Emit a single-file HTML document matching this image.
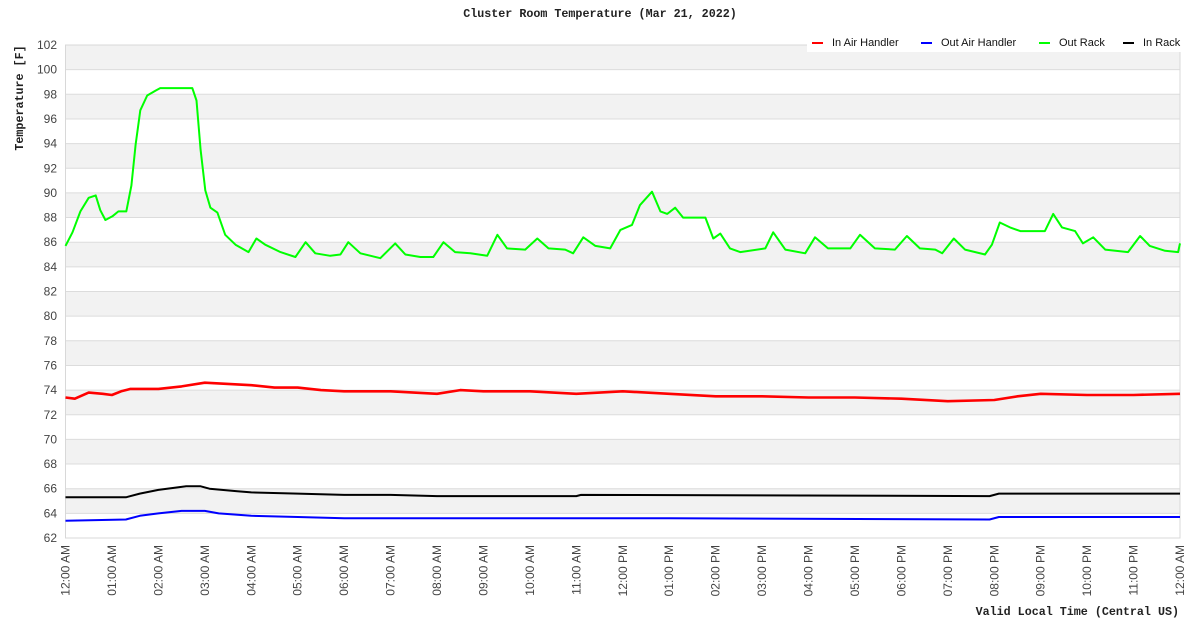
<!DOCTYPE html>
<html><head><meta charset="utf-8"><style>
html,body{margin:0;padding:0;background:#fff;width:1200px;height:628px;overflow:hidden}
</style></head><body>
<svg id="chart" width="1200" height="628" xmlns="http://www.w3.org/2000/svg" font-family="Liberation Sans, sans-serif"></svg>
<script>
const yTicks=[62,64,66,68,70,72,74,76,78,80,82,84,86,88,90,92,94,96,98,100,102];
const xTickLabels=["12:00 AM","01:00 AM","02:00 AM","03:00 AM","04:00 AM","05:00 AM","06:00 AM","07:00 AM","08:00 AM","09:00 AM","10:00 AM","11:00 AM","12:00 PM","01:00 PM","02:00 PM","03:00 PM","04:00 PM","05:00 PM","06:00 PM","07:00 PM","08:00 PM","09:00 PM","10:00 PM","11:00 PM","12:00 AM"];
const greenHours=[0,.15,.32,.5,.65,.75,.86,1.01,1.14,1.31,1.42,1.51,1.61,1.76,1.94,2.04,2.73,2.82,2.91,3.01,3.12,3.27,3.44,3.66,3.94,4.11,4.3,4.63,4.95,5.17,5.38,5.7,5.92,6.09,6.35,6.78,7.1,7.32,7.64,7.92,8.14,8.39,8.72,9.08,9.3,9.51,9.9,10.16,10.4,10.76,10.93,11.15,11.41,11.73,11.95,12.2,12.37,12.63,12.81,12.96,13.13,13.3,13.78,13.95,14.1,14.31,14.53,15.07,15.24,15.5,15.93,16.14,16.42,16.9,17.11,17.43,17.86,18.12,18.4,18.73,18.88,19.13,19.37,19.8,19.95,20.12,20.34,20.56,21.09,21.27,21.46,21.74,21.91,22.13,22.39,22.88,23.14,23.35,23.68,23.96,24];
const greenValues=[85.7,86.8,88.5,89.6,89.8,88.6,87.8,88.1,88.5,88.5,90.6,93.9,96.7,97.9,98.3,98.5,98.5,97.5,93.5,90.2,88.8,88.4,86.6,85.8,85.2,86.3,85.8,85.2,84.8,86.0,85.1,84.9,85.0,86.0,85.1,84.7,85.9,85.0,84.8,84.8,86.0,85.2,85.1,84.9,86.6,85.5,85.4,86.3,85.5,85.4,85.1,86.4,85.7,85.5,87.0,87.4,89.0,90.1,88.5,88.3,88.8,88.0,88.0,86.3,86.7,85.5,85.2,85.5,86.8,85.4,85.1,86.4,85.5,85.5,86.6,85.5,85.4,86.5,85.5,85.4,85.1,86.3,85.4,85.0,85.8,87.6,87.2,86.9,86.9,88.3,87.2,86.9,85.9,86.4,85.4,85.2,86.5,85.7,85.3,85.2,85.9];
const redHours=[0,0.2,0.5,0.8,1,1.2,1.4,2,2.5,3,3.5,4,4.5,5,5.5,6,7,8,8.5,9,10,11,12,13,14,15,16,17,18,19,20,20.5,21,22,23,24];
const redValues=[73.4,73.3,73.8,73.7,73.6,73.9,74.1,74.1,74.3,74.6,74.5,74.4,74.2,74.2,74.0,73.9,73.9,73.7,74.0,73.9,73.9,73.7,73.9,73.7,73.5,73.5,73.4,73.4,73.3,73.1,73.2,73.5,73.7,73.6,73.6,73.7];
const blackHours=[0,1.3,1.6,2.0,2.6,2.9,3.1,3.7,4.0,5.0,6.0,7.0,8.0,11.0,11.1,19.9,20.1,24];
const blackValues=[65.3,65.3,65.6,65.9,66.2,66.2,66.0,65.8,65.7,65.6,65.5,65.5,65.4,65.4,65.5,65.4,65.6,65.6];
const blueHours=[0,1.3,1.6,2.0,2.5,3.0,3.3,4.0,5.0,6.0,11.0,13.0,19.9,20.1,24];
const blueValues=[63.4,63.5,63.8,64.0,64.2,64.2,64.0,63.8,63.7,63.6,63.6,63.6,63.5,63.7,63.7];

const L=65.5,R=1180,T=45,B=538,NS="http://www.w3.org/2000/svg";
const svg=document.getElementById('chart');
const xs=h=>L+(R-L)*h/24;
const ys=v=>B-(B-T)*(v-62)/40;
function mk(tag,attrs,parent){const e=document.createElementNS(NS,tag);for(const k in attrs)e.setAttribute(k,attrs[k]);(parent||svg).appendChild(e);return e;}

for(let i=0;i<yTicks.length-1;i++){
  const band=mk('rect',{x:L,y:ys(yTicks[i+1]),width:R-L,height:ys(yTicks[i])-ys(yTicks[i+1]),fill:(i%2===1)?'#f2f2f2':'#ffffff'});
  
  
}
yTicks.forEach(v=>{
  const g=mk('line',{x1:L,x2:R,y1:ys(v),y2:ys(v),stroke:'#dcdcdc','stroke-width':1});
  
  
  const t=mk('text',{x:57,y:ys(v)+4,'text-anchor':'end','font-size':12,fill:'#444'});
  t.textContent=v;
  
  
});
const frame=mk('rect',{x:L,y:T,width:R-L,height:B-T,fill:'none',stroke:'#d8d8d8'});



xTickLabels.forEach((lab,i)=>{
  const x=xs(i);
  const t=mk('text',{x:0,y:0,transform:`translate(${x+4},545) rotate(-90)`,'text-anchor':'end','font-size':12,fill:'#444'});
  t.textContent=lab;
  
  
});

function series(hours,vals,color,name,w){
  const p=mk('polyline',{points:hours.map((h,i)=>xs(h).toFixed(1)+','+ys(vals[i]).toFixed(1)).join(' '),fill:'none',stroke:color,'stroke-width':w,'stroke-linejoin':'round'});
  
  
}
series(blueHours,blueValues,'#0000ff','out-air-handler-line',2);
series(blackHours,blackValues,'#000000','in-rack-line',2);
series(redHours,redValues,'#ff0000','in-air-handler-line',2.6);
series(greenHours,greenValues,'#00ff00','out-rack-line',2);

const lg=mk('g',{});


mk('rect',{x:807,y:33,width:378,height:19,fill:'#fff'},lg);
[["In Air Handler","#ff0000",812],["Out Air Handler","#0000ff",921],["Out Rack","#00ff00",1039],["In Rack","#000000",1123]].forEach(([n,c,x])=>{
  const e=mk('g',{},lg);
  
  
  mk('rect',{x:x,y:42,width:11,height:2,fill:c},e);
  const t=mk('text',{x:x+20,y:46,'font-size':11,fill:'#111'},e);
  t.textContent=n;
});

const title=mk('text',{x:600,y:17,'text-anchor':'middle','font-size':11.7,'font-weight':'bold','font-family':'Liberation Mono, monospace',fill:'#222'});
title.textContent='Cluster Room Temperature (Mar 21, 2022)';


const yt=mk('text',{x:0,y:0,transform:'translate(23,98) rotate(-90)','text-anchor':'middle','font-size':11.7,'font-weight':'bold','font-family':'Liberation Mono, monospace',fill:'#222'});
yt.textContent='Temperature [F]';


const xt=mk('text',{x:1179,y:615,'text-anchor':'end','font-size':11.7,'font-weight':'bold','font-family':'Liberation Mono, monospace',fill:'#222'});
xt.textContent='Valid Local Time (Central US)';


</script>
</body></html>
